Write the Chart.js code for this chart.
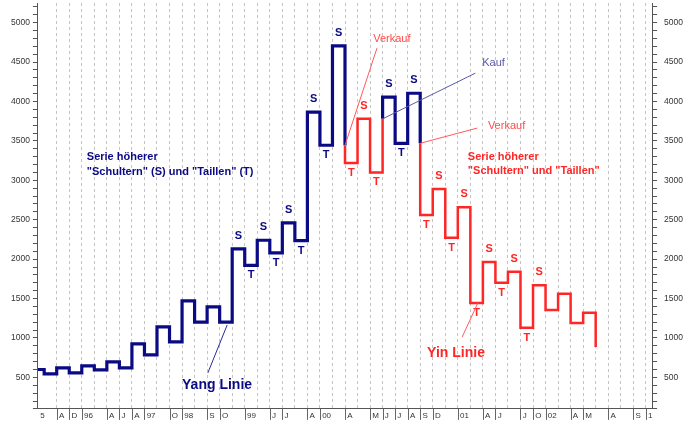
<!DOCTYPE html>
<html lang="de">
<head>
<meta charset="UTF-8">
<title>Kagi Chart - Yang Linie / Yin Linie</title>
<script src="https://cdn.jsdelivr.net/npm/chart.js"></script>
<style>
  body { margin: 0; background: #fff; }
  #chartBox { width: 690px; height: 424px; }
</style>
</head>
<body>
<div id="chartBox"><canvas id="kagiCanvas" width="690" height="424"></canvas></div>
<script>
  // Kagi line: level at the axis start, then the level reached at each column (-1 .. 43)
  const xStart = -1.5;
  const firstColumn = -1;
  const startLevel = 600;
  const columnLevels = [545, 620, 557, 645, 595, 696, 620, 925, 785, 1140, 950, 1470, 1200, 1395, 1200,
    2130, 1920, 2240, 2080, 2460, 2235, 3865, 3445, 4705, 3220, 3780, 3100, 4055, 3470, 4105,
    2560, 2890, 2270, 2660, 1445, 1965, 1700, 1840, 1130, 1670, 1355, 1560, 1190, 1320, 885];

  // columns with a "Schulter" (S) or "Taille" (T) mark
  const shoulderCols = [14, 16, 18, 20, 22, 24, 26, 28, 30, 32, 34, 36, 38];
  const waistCols = [15, 17, 19, 21, 23, 25, 27, 29, 31, 33, 35, 37];

  // bottom axis labels, one per column 0..47
  const startLabel = '5';
  const monthLabels = ['A', 'D', '96', '', 'A', 'J', 'A', '97', '', 'O', '98', '', 'S', 'O', '', '99',
    '', 'J', 'J', '', 'A', '00', '', 'A', '', 'M', 'J', 'J', 'A', 'S', 'D', '',
    '01', '', 'A', 'J', '', 'J', 'O', '02', '', 'A', 'M', '', 'A', '', 'S', '1'];

  const BLUE = '#0a0a84';
  const RED = '#ff2626';
  const FONT = '"Liberation Sans", Arial, sans-serif';

  // split the line into yang (blue) and yin (red) parts with the kagi rule
  const yangPts = [{ x: xStart, y: startLevel }];
  const yinPts = [];
  const colIsYang = {};
  let yang = true, prevHigh = null, prevLow = null, cur = startLevel;
  const add = (isYang, p) => (isYang ? yangPts : yinPts).push(p);

  columnLevels.forEach((level, i) => {
    const col = firstColumn + i;
    add(yang, { x: col, y: cur });
    const up = level > cur;
    const limit = up ? prevHigh : prevLow;
    const crosses = limit !== null && (up ? (!yang && level > limit) : (yang && level < limit));
    if (crosses) {
      add(yang, { x: col, y: limit });
      add(yang, { x: col, y: null });
      yang = !yang;
      add(yang, { x: col, y: limit });
    }
    add(yang, { x: col, y: level });
    if (up) prevHigh = level; else prevLow = level;
    colIsYang[col] = yang;
    cur = level;
  });

  const levelAt = col => columnLevels[col - firstColumn];

  const notesPlugin = {
    id: 'kagiNotes',
    afterDraw(chart) {
      const { ctx, chartArea, scales: { x, y } } = chart;
      const px = v => x.getPixelForValue(v);
      const py = v => y.getPixelForValue(v);

      ctx.save();
      // small bars in front of the month labels
      ctx.strokeStyle = '#666';
      ctx.lineWidth = 1;
      monthLabels.forEach((lab, i) => {
        if (!lab) return;
        const xx = Math.round(px(i)) + 0.5;
        ctx.beginPath();
        ctx.moveTo(xx, chartArea.bottom);
        ctx.lineTo(xx, chartArea.bottom + 11);
        ctx.stroke();
      });

      ctx.textAlign = 'center';
      ctx.textBaseline = 'middle';
      ctx.font = 'bold 11px ' + FONT;
      shoulderCols.forEach(col => {
        ctx.fillStyle = colIsYang[col] ? BLUE : RED;
        ctx.fillText('S', px(col + 0.5), py(levelAt(col)) - 13);
      });
      waistCols.forEach(col => {
        ctx.fillStyle = colIsYang[col] ? BLUE : RED;
        ctx.fillText('T', px(col + 0.5), py(levelAt(col)) + 10);
      });

      // leader lines
      const leader = (x1, y1, x2, y2, color) => {
        ctx.strokeStyle = color;
        ctx.lineWidth = 1;
        ctx.beginPath();
        ctx.moveTo(px(x1), py(y1));
        ctx.lineTo(px(x2), py(y2));
        ctx.stroke();
      };
      leader(23, 3445, 25.55, 4677, '#ff5a5a');
      leader(26, 3780, 33.4, 4360, '#5a5aaa');
      leader(29, 3470, 33.55, 3663, '#ff5a5a');
      leader(13.6, 1165, 12.06, 557, '#2a2a9a');
      leader(33.6, 1445, 32.35, 1013, '#ff5a5a');

      ctx.textAlign = 'left';
      ctx.font = '11px ' + FONT;
      ctx.fillStyle = '#ff4a4a';
      ctx.fillText('Verkauf', px(25.25), py(4790));
      ctx.fillText('Verkauf', px(34.4), py(3688));
      ctx.fillStyle = '#5a5aaa';
      ctx.fillText('Kauf', px(33.95), py(4487));

      ctx.font = 'bold 11px ' + FONT;
      ctx.fillStyle = BLUE;
      ctx.fillText('Serie höherer', px(2.4), py(3295));
      ctx.fillText('"Schultern" (S) und "Taillen" (T)', px(2.4), py(3295) + 15);
      ctx.fillStyle = RED;
      ctx.fillText('Serie höherer', px(32.8), py(3295));
      ctx.fillText('"Schultern" und "Taillen"', px(32.8), py(3295) + 14);

      ctx.font = 'bold 14px ' + FONT;
      ctx.fillStyle = BLUE;
      ctx.fillText('Yang Linie', px(10), py(405));
      ctx.fillStyle = RED;
      ctx.fillText('Yin Linie', px(29.55), py(810));
      ctx.restore();
    }
  };

  const noPadding = s => { s.paddingTop = 0; s.paddingBottom = 0; s.paddingLeft = 0; s.paddingRight = 0; };

  const yScale = (side) => ({
    type: 'linear',
    position: side,
    min: 100,
    max: 5250,
    afterFit: noPadding,
    ticks: {
      autoSkip: false,
      stepSize: 100,
      includeBounds: false,
      padding: side === 'left' ? 3 : 7,
      color: '#333',
      font: { family: FONT, size: 8.5 },
      callback: v => (v % 500 === 0 ? String(v) : '')
    },
    grid: { drawOnChartArea: false, tickLength: 5, tickColor: '#555' },
    border: { color: '#555', width: 1 }
  });

  new Chart(document.getElementById('kagiCanvas'), {
    type: 'line',
    data: {
      datasets: [
        { label: 'Yin', data: yinPts, borderColor: RED, borderWidth: 2.5, pointRadius: 0, fill: false, tension: 0, borderJoinStyle: 'miter', spanGaps: false },
        { label: 'Yang', data: yangPts, borderColor: BLUE, borderWidth: 3.2, pointRadius: 0, fill: false, tension: 0, borderJoinStyle: 'miter', spanGaps: false }
      ]
    },
    options: {
      responsive: false,
      animation: false,
      events: [],
      layout: { padding: { left: 8, top: 3, right: 0, bottom: 1.5 } },
      plugins: { legend: { display: false }, tooltip: { enabled: false } },
      scales: {
        x: {
          type: 'linear',
          min: xStart,
          max: 47.5,
          afterFit: noPadding,
          afterBuildTicks: s => {
            s.ticks = [xStart, ...monthLabels.map((_, i) => i)].map(v => ({ value: v }));
          },
          ticks: {
            autoSkip: false,
            maxRotation: 0,
            align: 'start',
            padding: 2,
            color: '#333',
            font: { family: FONT, size: 8 },
            callback: v => ' ' + (v === xStart ? startLabel : monthLabels[v])
          },
          grid: {
            drawTicks: false,
            color: c => (c.index === 0 ? 'rgba(0,0,0,0)' : '#c4c4c4')
          },
          border: { color: '#555', width: 1, dash: [3, 3] }
        },
        y: yScale('left'),
        y2: yScale('right')
      }
    },
    plugins: [notesPlugin]
  });
</script>
</body>
</html>
